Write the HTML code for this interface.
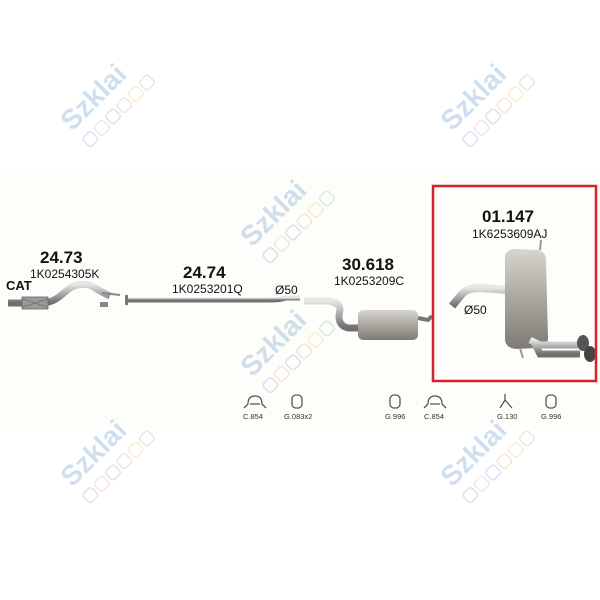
<!DOCTYPE html>
<html><head><style>
body{margin:0;background:#fff;}
svg{display:block;font-family:"Liberation Sans",Arial,sans-serif;}
</style></head><body>
<svg width="600" height="600" viewBox="0 0 600 600" xmlns="http://www.w3.org/2000/svg">
<defs>
<linearGradient id="pipe" x1="0" y1="0" x2="0" y2="1">
<stop offset="0" stop-color="#e6e6e6"/><stop offset="0.5" stop-color="#a9a9a9"/><stop offset="1" stop-color="#6f6f6f"/>
</linearGradient>
<linearGradient id="box" x1="0" y1="0" x2="0" y2="1">
<stop offset="0" stop-color="#d8d5cf"/><stop offset="0.5" stop-color="#aaa69f"/><stop offset="1" stop-color="#7d7a75"/>
</linearGradient>
<g id="wm" opacity="0.35">
<text x="0" y="0" font-size="28" font-weight="bold" fill="#7aa6d4" transform="rotate(-45)">Szklai</text>
<g transform="rotate(-45) translate(2,12)">
<rect x="0" y="0" width="12" height="12" rx="3" fill="none" stroke="#8fb4dd" stroke-width="1.5"/>
<rect x="16" y="0" width="12" height="12" rx="3" fill="none" stroke="#e6b0b8" stroke-width="1.5"/>
<rect x="32" y="0" width="12" height="12" rx="3" fill="none" stroke="#8fb4dd" stroke-width="1.5"/>
<rect x="48" y="0" width="12" height="12" rx="3" fill="none" stroke="#e8b48a" stroke-width="1.5"/>
<rect x="64" y="0" width="12" height="12" rx="3" fill="none" stroke="#e8d28a" stroke-width="1.5"/>
<rect x="80" y="0" width="12" height="12" rx="3" fill="none" stroke="#9ccc9c" stroke-width="1.5"/>
</g>
</g>
</defs>
<rect x="0" y="175" width="600" height="252" fill="#fdfdf9"/>
<use href="#wm" x="72" y="132"/>
<use href="#wm" x="452" y="132"/>
<use href="#wm" x="252" y="248"/>
<use href="#wm" x="252" y="378"/>
<use href="#wm" x="72" y="488"/>
<use href="#wm" x="452" y="488"/>

<g fill="#111">
<text x="6" y="290" font-size="13" font-weight="bold">CAT</text>
<text x="40" y="263" font-size="17" font-weight="bold">24.73</text>
<text x="30" y="278" font-size="12">1K0254305K</text>
<text x="183" y="278" font-size="17" font-weight="bold">24.74</text>
<text x="172" y="293" font-size="12">1K0253201Q</text>
<text x="275" y="294" font-size="12">Ø50</text>
<text x="342" y="270" font-size="17" font-weight="bold">30.618</text>
<text x="334" y="285" font-size="12">1K0253209C</text>
<text x="482" y="222" font-size="17" font-weight="bold">01.147</text>
<text x="472" y="238" font-size="12">1K6253609AJ</text>
<text x="464" y="314" font-size="12">Ø50</text>
</g>

<path d="M8 303 L40 303 Q52 303 60 296 L70 288 Q78 283 90 285 L102 292 L110 296" stroke="url(#pipe)" stroke-width="7" fill="none"/>
<rect x="22" y="297" width="26" height="12" fill="#9a9a9a" stroke="#666" stroke-width="0.8"/>
<path d="M22 299 L48 307 M22 307 L48 299" stroke="#777" stroke-width="1"/>
<path d="M102 293 L120 295" stroke="#888" stroke-width="2"/>
<rect x="100" y="302" width="8" height="5" fill="#888"/>

<rect x="125" y="295" width="3" height="10" fill="#777"/>
<path d="M128 300 L270 300 Q280 300 285 298 L300 298" stroke="url(#pipe)" stroke-width="5" fill="none"/>

<path d="M304 301 L328 301 Q340 302 340 310 Q336 325 348 328 L360 328" stroke="url(#pipe)" stroke-width="7" fill="none"/>
<rect x="358" y="310" width="60" height="30" rx="5" fill="url(#box)"/>
<path d="M418 318 L428 320 L432 316" stroke="#777" stroke-width="4" fill="none"/>

<path d="M452 306 L462 294 Q467 288 480 288 L508 290" stroke="url(#pipe)" stroke-width="8" fill="none"/>
<path d="M505 256 Q506 249 516 249 L538 250 Q546 252 546 260 L548 338 Q548 348 536 348 L516 349 Q506 348 505 340 Z" fill="url(#box)"/>
<path d="M540 250 L541 240" stroke="#999" stroke-width="2"/>
<path d="M520 348 L523 358" stroke="#999" stroke-width="2"/>
<path d="M530 340 L540 345 L578 345 M535 344 L540 354 L580 354" stroke="url(#pipe)" stroke-width="7" fill="none"/>
<ellipse cx="583" cy="343" rx="6" ry="8" fill="#555"/>
<ellipse cx="590" cy="354" rx="6" ry="8" fill="#444"/>

<rect x="433" y="186" width="163" height="195" fill="none" stroke="#d4232a" stroke-width="2.5"/>

<g fill="none" stroke="#555" stroke-width="1.3">
<path d="M248 404 Q248 396 255 396 Q262 396 262 404 L266 408 M248 404 L244 408 M250 404 L260 404"/>
<path d="M428 404 Q428 396 435 396 Q442 396 442 404 L446 408 M428 404 L424 408 M430 404 L440 404"/>
<rect x="292" y="395" width="10" height="13" rx="4"/>
<rect x="390" y="395" width="10" height="13" rx="4"/>
<rect x="546" y="395" width="10" height="13" rx="4"/>
<path d="M505 400 L500 408 M505 400 L512 408 M505 400 L505 394"/>
</g>
<g font-size="7.5" fill="#333">
<text x="243" y="419">C.854</text>
<text x="284" y="419">G.083x2</text>
<text x="385" y="419">G.996</text>
<text x="424" y="419">C.854</text>
<text x="497" y="419">G.130</text>
<text x="541" y="419">G.996</text>
</g>
</svg>
</body></html>
